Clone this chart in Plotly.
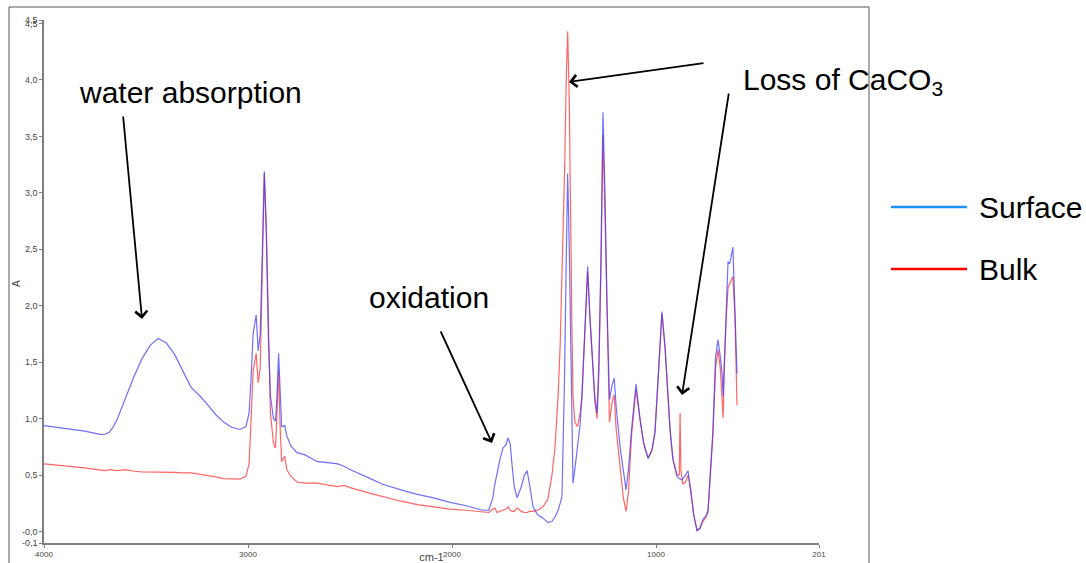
import plotly.graph_objects as go

# ---------------- data ----------------
wavenumber = [4000, 3900, 3800, 3720, 3700, 3680, 3660, 3640, 3600, 3560,
              3520, 3480, 3440, 3400, 3360, 3320, 3280, 3240, 3200, 3160,
              3120, 3080, 3040, 3010, 2995, 2985, 2975, 2960, 2950, 2940,
              2930, 2920, 2910, 2900, 2890, 2875, 2865, 2858, 2850, 2842,
              2835, 2820, 2810, 2790, 2760, 2720, 2660, 2600, 2560, 2530,
              2500, 2400, 2340, 2250, 2170, 2090, 2010, 1930, 1850, 1820,
              1800, 1790, 1780, 1765, 1750, 1735, 1725, 1715, 1705, 1695,
              1681, 1660, 1645, 1632, 1620, 1603, 1580, 1554, 1530, 1510,
              1495, 1480, 1470, 1461, 1455, 1448, 1440, 1433, 1425, 1418,
              1412, 1407, 1398, 1385, 1372, 1363, 1348, 1335, 1324, 1314,
              1300, 1289, 1280, 1270, 1260, 1250, 1240, 1228, 1215, 1205,
              1195, 1176, 1160, 1147, 1135, 1120, 1098, 1078, 1060, 1039,
              1020, 1005, 985, 971, 956, 941, 931, 917, 897, 886,
              882, 878, 872, 868, 855, 843, 830, 815, 799, 785,
              770, 755, 745, 735, 721, 708, 696, 685, 676, 671,
              665, 657, 647, 640, 633, 623, 613, 603]

surface = [0.94, 0.915, 0.89, 0.86, 0.865, 0.88, 0.93, 1.00, 1.18, 1.37,
           1.53, 1.65, 1.71, 1.67, 1.57, 1.42, 1.28, 1.21, 1.13, 1.04,
           0.97, 0.925, 0.905, 0.93, 1.05, 1.35, 1.75, 1.92, 1.60, 1.75,
           2.40, 3.19, 2.60, 1.70, 1.20, 1.00, 0.98, 1.20, 1.58, 1.15,
           0.93, 0.94, 0.85, 0.76, 0.70, 0.68, 0.62, 0.61, 0.60, 0.58,
           0.55, 0.47, 0.42, 0.37, 0.33, 0.30, 0.26, 0.23, 0.19, 0.19,
           0.30, 0.42, 0.52, 0.64, 0.74, 0.77, 0.83, 0.78, 0.58, 0.40,
           0.30, 0.40, 0.50, 0.54, 0.42, 0.22, 0.15, 0.12, 0.08, 0.09,
           0.13, 0.19, 0.25, 0.31, 0.80, 1.40, 2.40, 3.17, 2.50, 1.64,
           0.80, 0.43, 0.55, 0.73, 0.95, 1.20, 1.79, 2.35, 1.90, 1.64,
           1.20, 1.05, 1.50, 2.40, 3.71, 3.00, 2.00, 1.17, 1.30, 1.36,
           1.10, 0.75, 0.55, 0.37, 0.55, 0.90, 1.31, 0.99, 0.78, 0.65,
           0.72, 0.88, 1.50, 1.95, 1.64, 1.17, 0.90, 0.64, 0.49, 0.47,
           0.47, 0.46, 0.46, 0.47, 0.50, 0.54, 0.38, 0.15, 0.01, 0.03,
           0.11, 0.14, 0.19, 0.50, 0.90, 1.55, 1.70, 1.55, 1.40, 1.20,
           1.50, 1.94, 2.39, 2.37, 2.42, 2.52, 1.94, 1.40]

bulk = [0.60, 0.585, 0.565, 0.545, 0.54, 0.55, 0.545, 0.54, 0.55, 0.535,
        0.53, 0.53, 0.53, 0.53, 0.525, 0.52, 0.52, 0.51, 0.50, 0.485,
        0.47, 0.465, 0.465, 0.49, 0.60, 0.98, 1.42, 1.58, 1.32, 1.45,
        2.25, 3.17, 2.70, 1.80, 1.05, 0.78, 0.74, 1.05, 1.43, 0.90,
        0.62, 0.67, 0.55, 0.49, 0.44, 0.43, 0.43, 0.41, 0.40, 0.41,
        0.39, 0.34, 0.31, 0.27, 0.24, 0.22, 0.20, 0.19, 0.18, 0.17,
        0.20, 0.21, 0.17, 0.18, 0.19, 0.20, 0.22, 0.19, 0.18, 0.18,
        0.21, 0.18, 0.17, 0.17, 0.18, 0.18, 0.19, 0.22, 0.29, 0.50,
        0.75, 1.20, 1.64, 2.20, 2.60, 3.20, 4.00, 4.43, 3.80, 2.40,
        1.79, 1.20, 0.97, 0.93, 1.05, 1.20, 1.75, 2.30, 1.90, 1.60,
        1.15, 1.00, 1.40, 2.30, 3.51, 2.80, 1.90, 0.97, 1.15, 1.21,
        0.90, 0.55, 0.30, 0.18, 0.35, 0.85, 1.26, 0.99, 0.78, 0.65,
        0.72, 0.88, 1.50, 1.93, 1.64, 1.17, 0.90, 0.64, 0.50, 0.50,
        1.05, 0.55, 0.43, 0.42, 0.44, 0.50, 0.38, 0.15, 0.01, 0.03,
        0.09, 0.13, 0.17, 0.45, 0.85, 1.45, 1.61, 1.45, 1.15, 1.01,
        1.45, 1.85, 2.16, 2.20, 2.22, 2.26, 1.90, 1.12]

x_tick_vals = [4000, 3000, 2000, 1000, 201]
x_tick_text = ["4000", "3000", "2000", "1000", "201"]
y_tick_vals = [4.53, 4.5, 4.0, 3.5, 3.0, 2.5, 2.0, 1.5, 1.0, 0.5, 0.0, -0.1]
y_tick_text = ["4,5", "4,5", "4,0", "3,5", "3,0", "2,5", "2,0", "1,5",
               "1,0", "0,5", "-0,0", "-0,1"]
series_names = ["Surface", "Bulk"]
legend_colors = ["#1E90FF", "#FF0000"]

# ---------------- layout geometry (pixels) ----------------
W, H = 1086, 563
PL, PR, PT, PB = 44, 819, 20, 543   # plot area


def px(xp):
    return (xp - PL) / (PR - PL)


def py(yp):
    return (PB - yp) / (PB - PT)


FONT = "Arial, Liberation Sans, sans-serif"

fig = go.Figure()
fig.add_trace(go.Scatter(x=wavenumber, y=bulk, mode="lines", name="Bulk",
                         line=dict(color="rgba(255,50,50,0.75)", width=1.2),
                         showlegend=False))
fig.add_trace(go.Scatter(x=wavenumber, y=surface, mode="lines", name="Surface",
                         line=dict(color="rgba(50,50,255,0.7)", width=1.2),
                         showlegend=False))

axis_col = "#7f7f7f"
fig.update_layout(
    width=W, height=H,
    margin=dict(l=PL, r=W - PR, t=PT, b=H - PB, autoexpand=False),
    paper_bgcolor="white", plot_bgcolor="white",
    xaxis=dict(range=[4000, 201], autorange=False, showgrid=False, zeroline=False,
               automargin=False,
               showline=True, linecolor=axis_col, linewidth=1.5,
               ticks="outside", ticklen=3, tickcolor=axis_col,
               tickvals=x_tick_vals, ticktext=x_tick_text,
               tickfont=dict(family=FONT, size=8, color="#444"),
               title=dict(text="cm-1", font=dict(family=FONT, size=11, color="#444"),
                          standoff=0)),
    yaxis=dict(range=[-0.1, 4.53], autorange=False, showgrid=False, zeroline=False,
               automargin=False,
               showline=True, linecolor=axis_col, linewidth=1.5,
               ticks="outside", ticklen=3, tickcolor=axis_col,
               tickvals=y_tick_vals, ticktext=y_tick_text,
               tickfont=dict(family=FONT, size=9, color="#444")),
)

# outer frame
shapes = []
frame_col = "#555555"
shapes.append(dict(type="line", xref="paper", yref="paper", x0=px(9), x1=px(9),
                   y0=py(7), y1=py(563), line=dict(color=frame_col, width=1)))
shapes.append(dict(type="line", xref="paper", yref="paper", x0=px(9), x1=px(869),
                   y0=py(7), y1=py(7), line=dict(color=frame_col, width=1)))
shapes.append(dict(type="line", xref="paper", yref="paper", x0=px(869), x1=px(869),
                   y0=py(7), y1=py(563), line=dict(color=frame_col, width=1)))

# legend (manual)
for name, col, yl in zip(series_names, legend_colors, [207, 269]):
    shapes.append(dict(type="line", xref="paper", yref="paper", x0=px(891), x1=px(967),
                       y0=py(yl), y1=py(yl), line=dict(color=col, width=2.5)))
fig.update_layout(shapes=shapes)

annotations = []
# y axis title
annotations.append(dict(xref="paper", yref="paper", x=px(16), y=py(283),
                        text="A", showarrow=False, textangle=-90,
                        xanchor="center", yanchor="middle",
                        font=dict(family=FONT, size=10, color="#444")))

for name, yl in zip(series_names, [207, 269]):
    annotations.append(dict(xref="paper", yref="paper", x=px(977), y=py(yl),
                            text=name, showarrow=False, xanchor="left", yanchor="middle",
                            font=dict(family=FONT, size=30, color="black")))

annotations.append(dict(xref="paper", yref="paper", x=px(190), y=py(93),
                        text="water absorption", showarrow=False,
                        xanchor="center", yanchor="middle",
                        font=dict(family=FONT, size=30, color="black")))
annotations.append(dict(xref="paper", yref="paper", x=px(429), y=py(297),
                        text="oxidation", showarrow=False,
                        xanchor="center", yanchor="middle",
                        font=dict(family=FONT, size=30, color="black")))
annotations.append(dict(xref="paper", yref="paper", x=px(741), y=py(82),
                        text="Loss of CaCO<sub>3</sub>", showarrow=False,
                        xanchor="left", yanchor="middle",
                        font=dict(family=FONT, size=30, color="black")))

arrows = [((123, 115), (142, 319)),
          ((440, 330), (492, 443)),
          ((705, 63), (569, 82)),
          ((729, 92), (682, 395))]
for (tx, ty), (hx, hy) in arrows:
    annotations.append(dict(xref="paper", yref="paper", x=px(hx), y=py(hy),
                            axref="pixel", ayref="pixel", ax=tx - hx, ay=ty - hy,
                            text="", showarrow=True, arrowhead=4, arrowsize=1.3,
                            arrowwidth=1.8, arrowcolor="black"))
fig.update_layout(annotations=annotations)

fig.write_html("out.html")
